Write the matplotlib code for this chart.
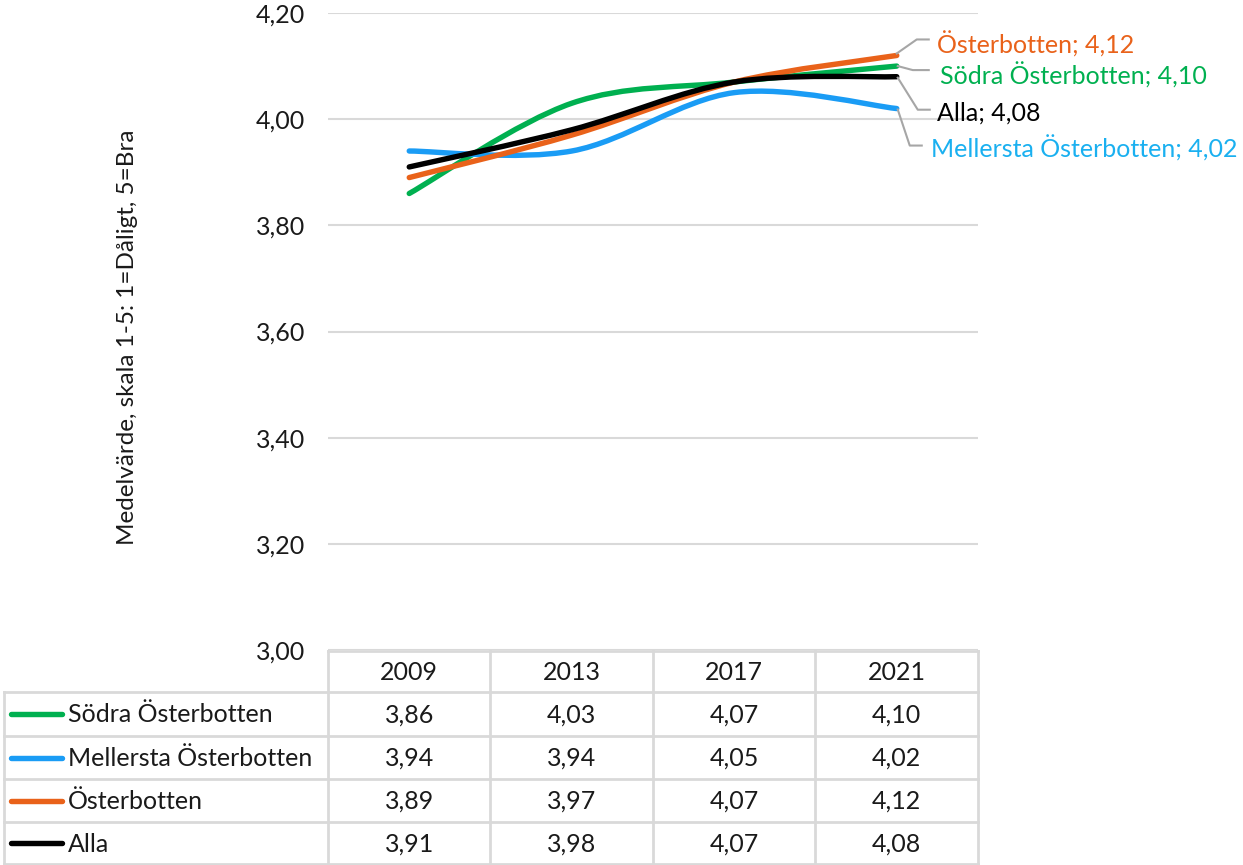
import matplotlib
matplotlib.use("Agg")
import matplotlib.pyplot as plt
from matplotlib.path import Path
from matplotlib.patches import PathPatch
from matplotlib.lines import Line2D
import numpy as np

plt.rcParams['font.family'] = ['Lato', 'DejaVu Sans']

# ---------------- data ----------------
years = ["2009", "2013", "2017", "2021"]
series_names = ["Södra Österbotten", "Mellersta Österbotten", "Österbotten", "Alla"]
sodra = [3.86, 4.03, 4.07, 4.10]
mellersta = [3.94, 3.94, 4.05, 4.02]
osterbotten = [3.89, 3.97, 4.07, 4.12]
alla = [3.91, 3.98, 4.07, 4.08]
series_values = [sodra, mellersta, osterbotten, alla]
line_colors = ["#00b050", "#1a9cf5", "#e9621a", "#000000"]
label_colors = ["#00b050", "#1ab0f0", "#e9621a", "#000000"]
y_ticks = [3.00, 3.20, 3.40, 3.60, 3.80, 4.00, 4.20]
y_label = "Medelvärde, skala 1-5: 1=Dåligt, 5=Bra"

FS = 18
W, H = 1243, 865
fig = plt.figure(figsize=(W / 100, H / 100), dpi=100)

left_px, right_px, top_px, bot_px = 328, 978, 13, 650
ax = fig.add_axes([left_px / W, 1 - bot_px / H, (right_px - left_px) / W, (bot_px - top_px) / H])
ax.set_xlim(-0.5, len(years) - 0.5)
ax.set_ylim(3.0, 4.2)
ax.set_yticks(y_ticks)
ax.set_yticklabels([f"{t:.2f}".replace(".", ",") for t in y_ticks], fontsize=FS, color="#1a1a1a")
ax.tick_params(axis="y", length=0, pad=16.5)
ax.set_xticks([])
for s in ax.spines.values():
    s.set_visible(False)
ax.grid(axis="y", color="#d9d9d9", linewidth=1.5)
ax.set_axisbelow(True)


def smooth_path(xs, ys):
    pts = np.column_stack([xs, ys]).astype(float)
    n = len(pts)
    verts = [pts[0]]
    codes = [Path.MOVETO]
    for i in range(n - 1):
        p0 = pts[i - 1] if i > 0 else pts[i]
        p1 = pts[i]
        p2 = pts[i + 1]
        p3 = pts[i + 2] if i + 2 < n else pts[i + 1]
        c1 = p1 + (p2 - p0) / 6.0
        c2 = p2 - (p3 - p1) / 6.0
        verts += [c1, c2, p2]
        codes += [Path.CURVE4] * 3
    return Path(verts, codes)


xs = np.arange(len(years))
for i in range(len(series_names)):
    patch = PathPatch(smooth_path(xs, series_values[i]), facecolor="none",
                      edgecolor=line_colors[i], linewidth=3.9, capstyle="round",
                      joinstyle="round", zorder=3 + i)
    ax.add_patch(patch)

fig.text(128 / W, 1 - 337 / H, y_label, rotation=90, ha="center", va="center",
         fontsize=17.5, color="#1a1a1a")

# ------------- data labels with leader lines (pixel offsets, y down) -------------
leader_offsets = {
    2: ([(0, -2), (20, -16), (32, -16)], (40, -11)),
    0: ([(1, 0), (16, 4), (32, 4)], (43, 9)),
    3: ([(1, 1), (21, 33), (33, 33)], (40, 36)),
    1: ([(1, 1), (13, 37), (25, 37)], (34, 40)),
}
fig.canvas.draw()
for i, (pts, (tx, ty)) in leader_offsets.items():
    v = series_values[i][-1]
    ex, ey = ax.transData.transform((xs[-1], v))
    lx = [ex + p[0] for p in pts]
    ly = [ey - p[1] for p in pts]
    fig.add_artist(Line2D(lx, ly, transform=None, color="#a6a6a6", linewidth=1.5, zorder=2))
    txt = f"{series_names[i]}; {v:.2f}".replace(".", ",")
    fig.text((ex + tx) / W, (ey - ty) / H, txt, ha="left", va="center",
             fontsize=FS, color=label_colors[i])

# ---------------- data table ----------------
tax = fig.add_axes([0, 0, 1, 1])
tax.set_xlim(0, W)
tax.set_ylim(H, 0)
tax.axis("off")
grid_c = "#d9d9d9"
col_edges = [ax.transData.transform((x - 0.5, 0))[0] for x in range(len(years) + 1)]
row_edges = [651, 692, 736, 779, 822, 864]
label_left = 4

tax.plot([col_edges[0], col_edges[-1]], [row_edges[0]] * 2, color=grid_c, lw=2)
for r in row_edges[1:]:
    tax.plot([label_left, col_edges[-1]], [r, r], color=grid_c, lw=2)
for c in col_edges:
    tax.plot([c, c], [row_edges[0], row_edges[-1]], color=grid_c, lw=2)
tax.plot([label_left, label_left], [row_edges[1], row_edges[-1]], color=grid_c, lw=2)

for j, yr in enumerate(years):
    cx = (col_edges[j] + col_edges[j + 1]) / 2
    tax.text(cx, (row_edges[0] + row_edges[1]) / 2 + 1, yr, ha="center", va="center",
             fontsize=FS, color="#1a1a1a")
for i, name in enumerate(series_names):
    cy = (row_edges[i + 1] + row_edges[i + 2]) / 2
    tax.plot([11, 62], [cy, cy], color=line_colors[i], lw=3.9, solid_capstyle="round")
    tax.text(68, cy + 1, name, ha="left", va="center", fontsize=FS, color="#1a1a1a")
    for j in range(len(years)):
        cx = (col_edges[j] + col_edges[j + 1]) / 2
        tax.text(cx, cy + 1, f"{series_values[i][j]:.2f}".replace(".", ","),
                 ha="center", va="center", fontsize=FS, color="#1a1a1a")

fig.savefig("out.png", dpi=100)
